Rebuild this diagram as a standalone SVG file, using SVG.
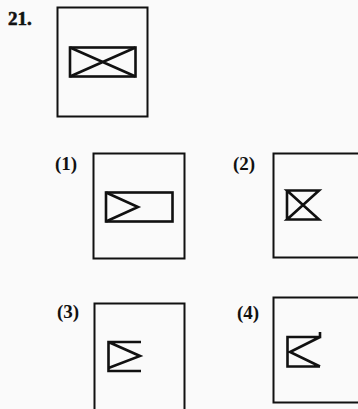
<svg xmlns="http://www.w3.org/2000/svg" width="358" height="409" viewBox="0 0 358 409">
<style>
.frame{fill:none;stroke:#111;stroke-width:2}
.fig{fill:none;stroke:#111;stroke-width:2.6;stroke-linejoin:miter}
.lbl{font-family:"Liberation Serif",serif;font-weight:bold;font-size:19px;fill:#111}
</style>
<rect width="358" height="409" fill="#fafafa"/>
<g id="q">
<text class="lbl" x="8" y="25" font-size="24" stroke="#111" stroke-width="0.6">21.</text>
<rect class="frame" x="57.5" y="7.5" width="90" height="109"/>
<rect class="fig" x="70" y="47.5" width="65.5" height="29"/>
<path class="fig" d="M70 47.5 L135.5 76.5 M70 76.5 L135.5 47.5"/>
</g>
<g id="opt1">
<text class="lbl" x="55" y="170">(1)</text>
<rect class="frame" x="93.5" y="153.5" width="91" height="105"/>
<rect class="fig" x="106" y="192.5" width="66.5" height="29"/>
<path class="fig" d="M106 192.5 L138 207 L106 221.5"/>
</g>
<g id="opt2">
<text class="lbl" x="233" y="170">(2)</text>
<rect class="frame" x="273.5" y="153.5" width="100" height="104"/>
<path class="fig" d="M287 190.5 L319 190.5 L287 219.5 L319 219.5 L287 190.5 Z M287 190.5 L287 219.5"/>
</g>
<g id="opt3">
<text class="lbl" x="57" y="318">(3)</text>
<rect class="frame" x="94.5" y="303.5" width="90" height="120"/>
<path class="fig" d="M141 342 L108.5 342 L108.5 371 L141 371 M108.5 342 L140 356 L108.5 368"/>
</g>
<g id="opt4">
<text class="lbl" x="237" y="319">(4)</text>
<rect class="frame" x="273.5" y="297.5" width="100" height="105"/>
<path class="fig" d="M320 332 L320 337 L287.5 337 L287.5 366.5 L320 366.5 M320 337 L290 352 L320 366.5"/>
</g>
</svg>
